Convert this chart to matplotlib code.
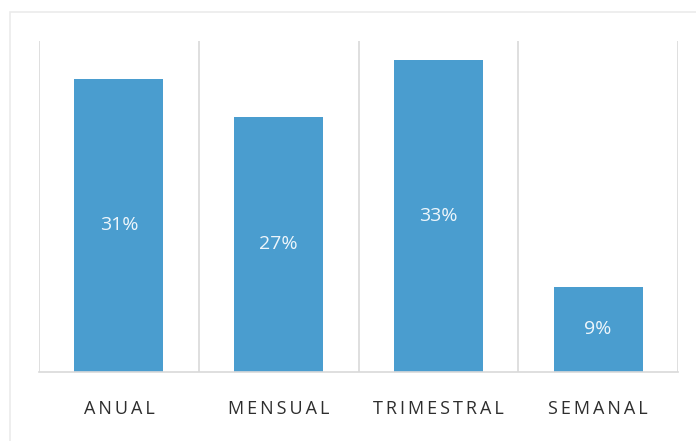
import matplotlib.pyplot as plt
from matplotlib.patches import Rectangle

categories = ['ANUAL', 'MENSUAL', 'TRIMESTRAL', 'SEMANAL']
shares = [31, 27, 33, 9]

BAR_COLOR = '#4a9dcf'
GRID_COLOR = '#d9d9d9'


# Spread the letters out a little, like the tracking on the axis labels.
def tracked(word, gap='\u2009'):
  return gap.join(word)


fig = plt.figure(figsize=(6.96, 4.41), dpi=100)
ax = fig.add_axes([39 / 696, 1 - 372 / 441, (678 - 39) / 696, (372 - 41) / 441])

x = range(len(categories))
ax.bar(x, shares, width=0.557, color=BAR_COLOR, zorder=2)

# Value labels sit in the middle of each bar
for xi, v in zip(x, shares):
  ax.text(xi, v / 2, f'{v}%', ha='center', va='center',
          color='#eef6fb', fontsize=14, family='Open Sans', zorder=3)

ax.set_xlim(-0.5, len(categories) - 0.5)
ax.set_ylim(0, 35)

# Vertical separators between the categories
for b in [i - 0.5 for i in range(len(categories) + 1)]:
  ax.axvline(b, color=GRID_COLOR, lw=1.2, zorder=1)

for side in ['top', 'right', 'left']:
  ax.spines[side].set_visible(False)
ax.spines['bottom'].set_color(GRID_COLOR)
ax.spines['bottom'].set_linewidth(1.2)

ax.set_yticks([])
ax.set_xticks(list(x))
ax.set_xticklabels([tracked(c) for c in categories], family='Open Sans',
                   fontsize=13, color='#2e2e2e')
ax.tick_params(axis='x', length=0, pad=20)

# Faint frame around the whole chart
fig.patches.append(Rectangle((10 / 696, -0.1), 1.2, 1 - 12 / 441 + 0.1,
                             transform=fig.transFigure, fill=False,
                             edgecolor='#ebebeb', lw=1.2))

fig.savefig('out.png', dpi=100)
